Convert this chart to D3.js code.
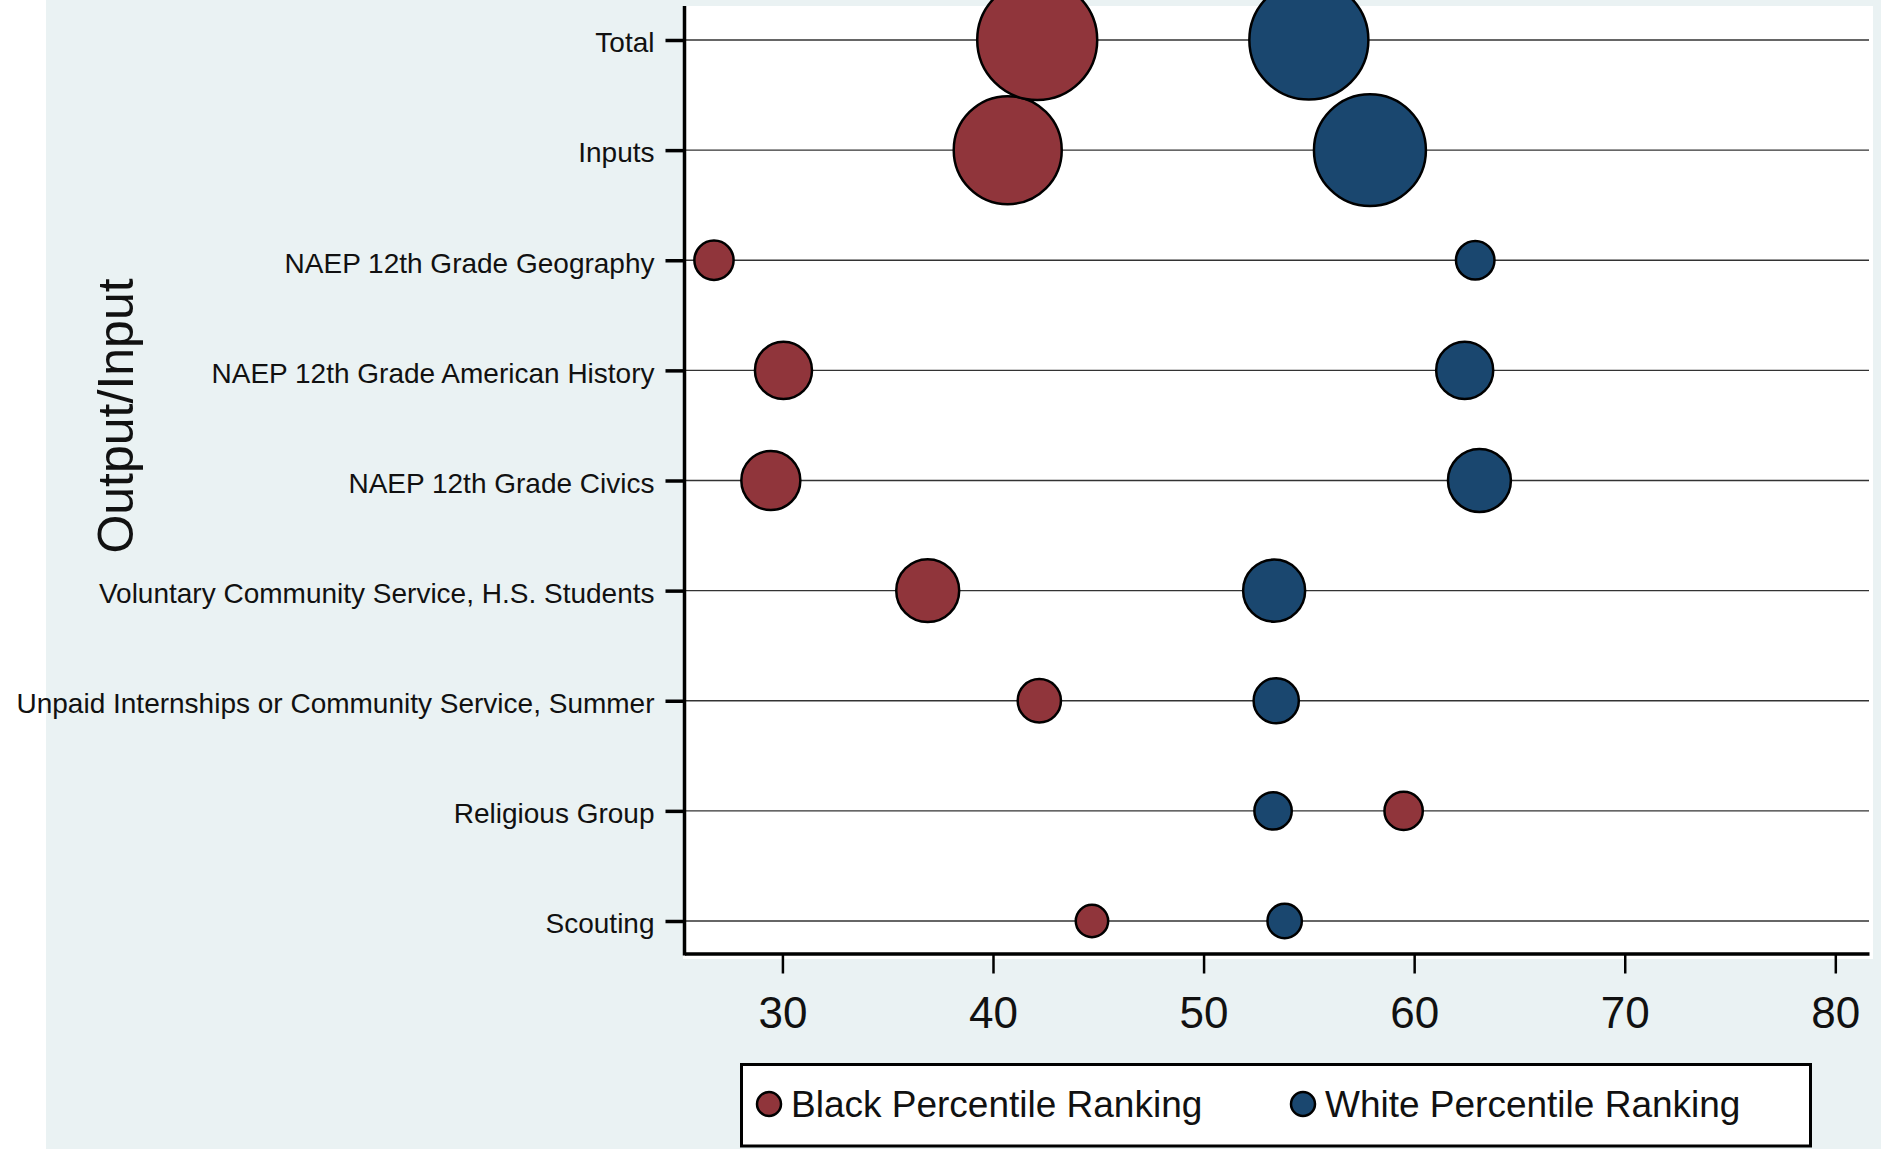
<!DOCTYPE html>
<html>
<head>
<meta charset="utf-8">
<script src="https://cdn.jsdelivr.net/npm/d3@7"></script>
<style>
  body { margin: 0; background: #fff; }
  svg { display: block; font-family: "Liberation Sans", Arial, sans-serif; }
</style>
</head>
<body>
<svg id="chart" width="1881" height="1149"></svg>
<script>
// categories, top to bottom
var categories = ["Total", "Inputs", "NAEP 12th Grade Geography", "NAEP 12th Grade American History",
  "NAEP 12th Grade Civics", "Voluntary Community Service, H.S. Students",
  "Unpaid Internships or Community Service, Summer", "Religious Group", "Scouting"];

// percentile rankings
var blackPct = [42.1, 40.7, 26.75, 30.05, 29.45, 36.9, 42.2, 59.5, 44.7];
var whitePct = [55.0, 57.9, 62.9, 62.4, 63.1, 53.35, 53.45, 53.3, 53.85];

// marker weights (area)
var blackWeight = [100, 81, 10.7, 22.6, 24.2, 27.5, 13, 10.2, 7.3];
var whiteWeight = [98.4, 87, 10.3, 22.6, 27.5, 26.7, 14.2, 9.7, 8.2];

var xTicks = [30, 40, 50, 60, 70, 80];
var seriesNames = ["Black Percentile Ranking", "White Percentile Ranking"];
var seriesColors = ["#90353B", "#1A476F"];

var svg = d3.select("#chart"),
    width = +svg.attr("width"),
    height = +svg.attr("height");

// background
svg.append("rect").attr("x", 46).attr("y", 0).attr("width", width - 46).attr("height", height).attr("fill", "#EAF2F3");
svg.append("rect").attr("x", 683).attr("y", 6).attr("width", 1873 - 683).attr("height", 959 - 6).attr("fill", "#fff");

var x = d3.scaleLinear().domain([25.35, 81.6]).range([684.5, 1869]);
var y = d3.scalePoint().domain(categories).range([40, 921]);
var r = d3.scaleSqrt().domain([0, 100]).range([0, 60]);

// gridlines
svg.append("g")
  .selectAll("line")
  .data(categories)
  .enter()
  .append("line")
  .attr("x1", 686).attr("x2", 1869)
  .attr("y1", function (d) { return y(d) }).attr("y2", function (d) { return y(d) })
  .attr("stroke", "#333").attr("stroke-width", 1.3)

// y axis
var yAxis = svg.append("g")
  .attr("transform", "translate(684.5,0)")
  .call(d3.axisLeft(y).tickSize(19).tickPadding(11))
yAxis.select(".domain").remove()
yAxis.selectAll(".tick line").attr("stroke", "#000").attr("stroke-width", 3.5)
yAxis.selectAll(".tick text").attr("font-size", 28).attr("dy", "0.42em").attr("fill", "#111")
  .attr("font-family", "Liberation Sans, Arial, sans-serif")
svg.append("line").attr("x1", 684.5).attr("x2", 684.5).attr("y1", 6).attr("y2", 955.5)
  .attr("stroke", "#000").attr("stroke-width", 3.5)

// x axis
var xAxis = svg.append("g")
  .attr("transform", "translate(0,953.5)")
  .call(d3.axisBottom(x).tickValues(xTicks).tickSize(20).tickSizeOuter(0).tickPadding(23))
xAxis.select(".domain").attr("stroke", "#000").attr("stroke-width", 3.5)
xAxis.selectAll(".tick line").attr("stroke", "#000").attr("stroke-width", 2.5)
xAxis.selectAll(".tick text").attr("font-size", 44).attr("fill", "#111").attr("font-family", "Liberation Sans, Arial, sans-serif")

// y title
svg.append("text")
  .attr("transform", "translate(133,416) rotate(-90)")
  .attr("text-anchor", "middle")
  .attr("font-size", 50)
  .attr("fill", "#111")
  .text("Output/Input")

// markers, bottom row first so upper rows sit on top
var rows = categories.map(function (c, i) {
  return { cat: c, b: blackPct[i], w: whitePct[i], bw: blackWeight[i], ww: whiteWeight[i] }
}).reverse();

var marks = svg.append("g")
rows.forEach(function (d) {
  marks.append("circle")
    .attr("cx", x(d.b)).attr("cy", y(d.cat)).attr("r", r(d.bw))
    .attr("fill", seriesColors[0]).attr("stroke", "#000").attr("stroke-width", 2.5)
  marks.append("circle")
    .attr("cx", x(d.w)).attr("cy", y(d.cat)).attr("r", r(d.ww))
    .attr("fill", seriesColors[1]).attr("stroke", "#000").attr("stroke-width", 2.5)
})

// legend
var legend = svg.append("g")
legend.append("rect")
  .attr("x", 741.5).attr("y", 1064.5).attr("width", 1810.5 - 741.5).attr("height", 1146 - 1064.5)
  .attr("fill", "#fff").attr("stroke", "#000").attr("stroke-width", 3)
var legendX = [769, 1303];
seriesNames.forEach(function (name, i) {
  legend.append("circle")
    .attr("cx", legendX[i]).attr("cy", 1104).attr("r", 12)
    .attr("fill", seriesColors[i]).attr("stroke", "#000").attr("stroke-width", 2.5)
  legend.append("text")
    .attr("x", legendX[i] + 22).attr("y", 1117)
    .attr("font-size", 37).attr("fill", "#111")
    .text(name)
})
</script>
</body>
</html>
